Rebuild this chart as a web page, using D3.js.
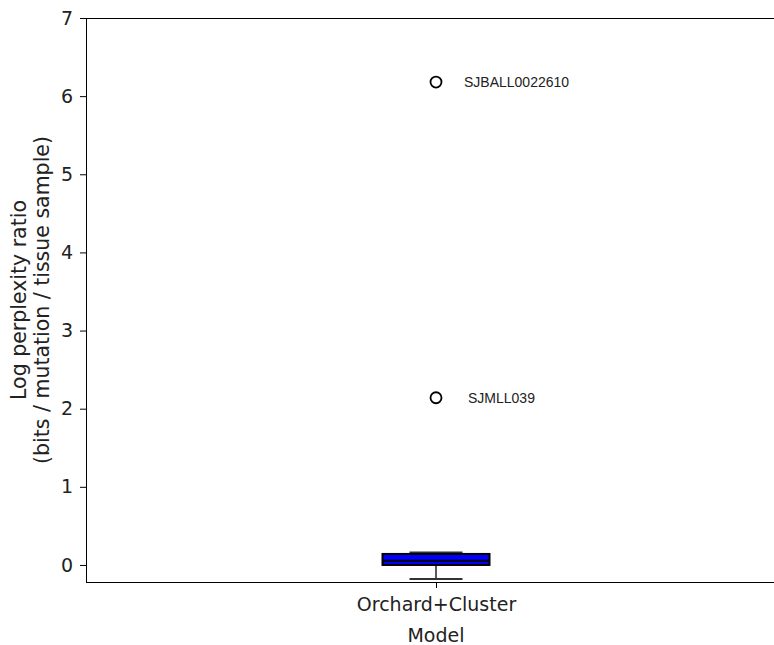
<!DOCTYPE html>
<html>
<head>
<meta charset="utf-8">
<script src="https://cdn.jsdelivr.net/npm/d3@7"></script>
<style>
  body { margin: 0; background: #fff; }
  svg { display: block; font-family: "DejaVu Sans", sans-serif; }
</style>
</head>
<body>
<script>
// Data
const models = ["Orchard+Cluster"];
const boxStats = [{ model: "Orchard+Cluster", whiskLo: -0.18, q1: 0.0, median: 0.055, q3: 0.141, whiskHi: 0.158 }];
const outliers = [
  { model: "Orchard+Cluster", value: 6.18, label: "SJBALL0022610", dx: 28 },
  { model: "Orchard+Cluster", value: 2.14, label: "SJMLL039", dx: 32 }
];
const yTicks = [0, 1, 2, 3, 4, 5, 6, 7];

const W = 774, H = 645;
const margin = { left: 86, top: 18, right: -12, bottom: 63 };

const svg = d3.select("body").append("svg")
    .attr("width", W).attr("height", H);

// x: one category in the middle of a wide axis
const x = d3.scalePoint()
    .domain(models)
    .range([margin.left, W - margin.right])
    .padding(0.5);

const y = d3.scaleLinear()
    .domain([-0.218, 7])
    .range([H - margin.bottom, margin.top]);

const boxW = 107, capW = 53;

// spines (left, top)
svg.append("line").attr("x1", margin.left + 0.5).attr("x2", margin.left + 0.5)
    .attr("y1", margin.top).attr("y2", H - margin.bottom)
    .attr("stroke", "#000");
svg.append("line").attr("x1", margin.left).attr("x2", W)
    .attr("y1", margin.top + 0.5).attr("y2", margin.top + 0.5)
    .attr("stroke", "#000");

// y axis
const yAxis = svg.append("g")
    .attr("transform", `translate(${margin.left},0)`)
    .call(d3.axisLeft(y).tickValues(yTicks).tickSize(6).tickPadding(7).tickFormat(d3.format("d")));
yAxis.select(".domain").remove();
yAxis.selectAll("text").attr("font-size", 19).attr("fill", "#222").attr("font-family", "DejaVu Sans");
yAxis.selectAll("line").attr("stroke", "#000");

// x axis
const xAxis = svg.append("g")
    .attr("transform", `translate(0,${H - margin.bottom})`)
    .call(d3.axisBottom(x).tickSize(6).tickPadding(10));
xAxis.select(".domain").attr("d", `M${margin.left},0.5H${W}`).attr("stroke", "#000");
xAxis.selectAll("text").attr("font-size", 19).attr("fill", "#222").attr("font-family", "DejaVu Sans");
xAxis.selectAll("line").attr("stroke", "#000");

// axis labels
svg.append("text")
    .attr("x", x(models[0])).attr("y", 642)
    .attr("text-anchor", "middle").attr("font-size", 19).attr("fill", "#222")
    .text("Model");

const yl = svg.append("text")
    .attr("transform", `translate(0,${(margin.top + H - margin.bottom) / 2}) rotate(-90)`)
    .attr("text-anchor", "middle").attr("font-size", 20.5).attr("fill", "#222");
yl.append("tspan").attr("x", 0).attr("y", 26).text("Log perplexity ratio");
yl.append("tspan").attr("x", 0).attr("y", 49).text("(bits / mutation / tissue sample)");

// boxes
const boxes = svg.append("g").selectAll("g").data(boxStats).join("g");
boxes.append("line")
    .attr("x1", d => x(d.model)).attr("x2", d => x(d.model))
    .attr("y1", d => y(d.whiskLo)).attr("y2", d => y(d.q1))
    .attr("stroke", "#222").attr("stroke-width", 1.5);
boxes.append("line")
    .attr("x1", d => x(d.model)).attr("x2", d => x(d.model))
    .attr("y1", d => y(d.q3)).attr("y2", d => y(d.whiskHi))
    .attr("stroke", "#222").attr("stroke-width", 1.5);
boxes.selectAll(".cap").data(d => [
    { m: d.model, v: d.whiskLo }, { m: d.model, v: d.whiskHi }
  ]).join("line").attr("class", "cap")
    .attr("x1", d => x(d.m) - capW / 2).attr("x2", d => x(d.m) + capW / 2)
    .attr("y1", d => y(d.v)).attr("y2", d => y(d.v))
    .attr("stroke", "#333").attr("stroke-width", 2);
boxes.append("rect")
    .attr("x", d => x(d.model) - boxW / 2).attr("width", boxW)
    .attr("y", d => y(d.q3)).attr("height", d => y(d.q1) - y(d.q3))
    .attr("fill", "#0000ff").attr("stroke", "#000").attr("stroke-width", 2);
boxes.append("line")
    .attr("x1", d => x(d.model) - boxW / 2).attr("x2", d => x(d.model) + boxW / 2)
    .attr("y1", d => y(d.median)).attr("y2", d => y(d.median))
    .attr("stroke", "#000").attr("stroke-width", 2);

// outliers with labels
const fl = svg.append("g").selectAll("g").data(outliers).join("g");
fl.append("circle")
    .attr("cx", d => x(d.model)).attr("cy", d => y(d.value))
    .attr("r", 5.5).attr("fill", "none").attr("stroke", "#000").attr("stroke-width", 1.8);
fl.append("text")
    .attr("x", d => x(d.model) + d.dx).attr("y", d => y(d.value))
    .attr("dy", "0.35em")
    .attr("font-family", "Liberation Sans, Arial, sans-serif")
    .attr("font-size", 14)
    .attr("fill", "#222")
    .text(d => d.label);
</script>
</body>
</html>
